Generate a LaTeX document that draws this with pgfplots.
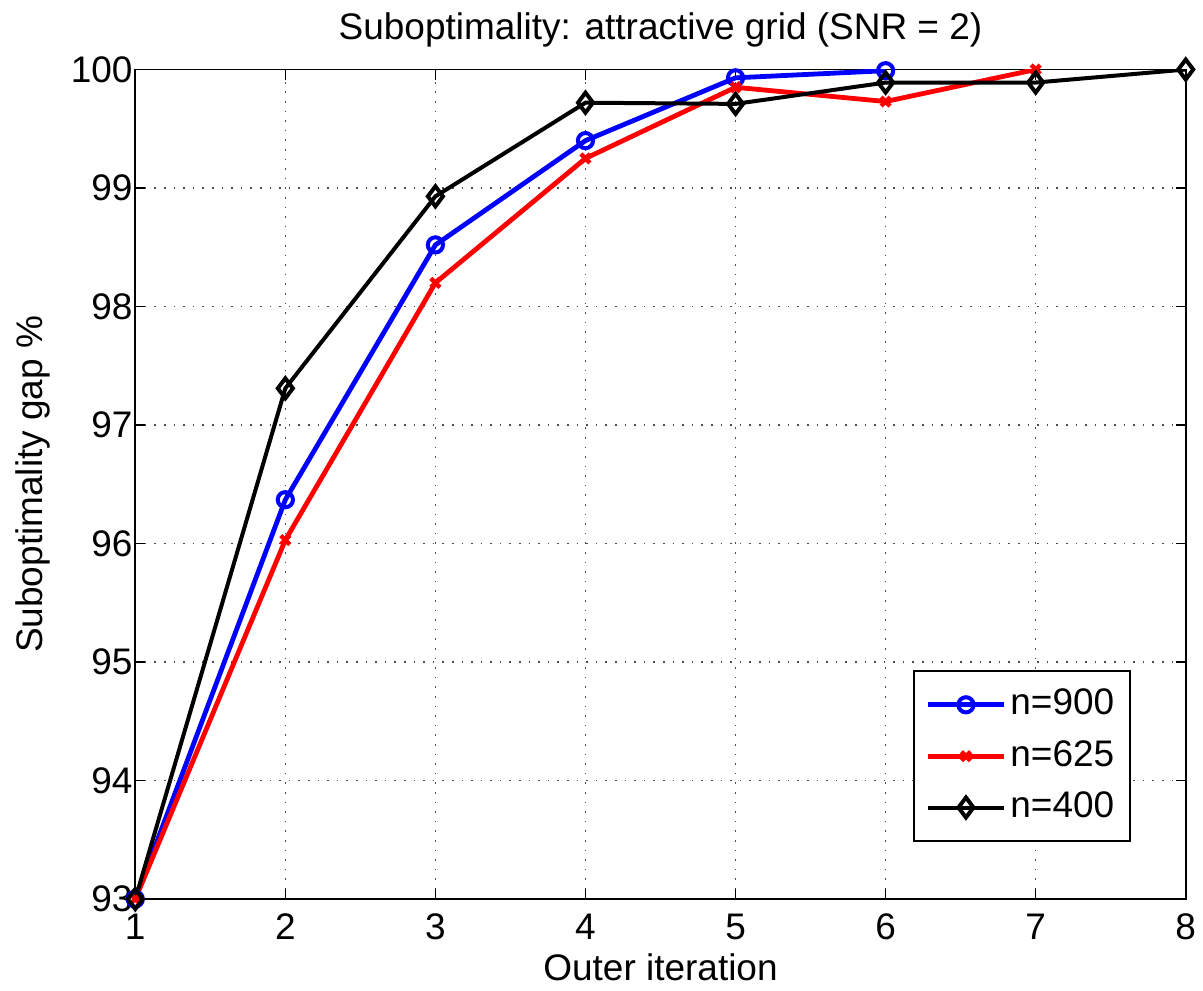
\documentclass[border={1.5pt 3pt 3.5pt 0pt}]{standalone}
\usepackage{pgfplots}
\pgfplotsset{compat=1.18}
\usepackage{fontspec}
\setmainfont{Liberation Sans}
\newcommand{\ff}{\fontsize{18.5}{21}\selectfont}
\begin{document}
\ff
\begin{tikzpicture}
\begin{axis}[
  scale only axis,
  width=525.5pt, height=415pt,
  xmin=1, xmax=8, ymin=93, ymax=100,
  xtick={1,...,8}, ytick={93,...,100},
  /pgf/number format/assume math mode=true,
  tick label style={font=\ff},
  label style={font=\ff},
  title style={font=\ff, yshift=-1pt},
  title={Suboptimality: attractive grid (SNR = 2)},
  xlabel={Outer iteration},
  ylabel={Suboptimality gap \%},
  xlabel style={inner ysep=2pt, yshift=1.5pt},
  ylabel style={yshift=-2pt},
  xticklabel style={yshift=-1pt, inner xsep=0pt},
  yticklabel style={xshift=5pt},
  grid=major,
  major grid style={dash pattern=on 0.8pt off 4pt, black!70, line width=0.6pt},
  tick align=inside,
  major tick length=5pt,
  tick style={black, line width=0.6pt},
  axis line style={line width=0.8pt},
  legend style={at={(0.948,0.0687)}, anchor=south east, draw=black, line width=0.9pt,
    font=\ff, row sep=6pt, inner xsep=6pt, inner ysep=7pt},
  legend cell align=left,
  legend image code/.code={\draw[mark repeat=2,mark phase=2] plot coordinates {(0pt,0pt) (19pt,0pt) (38pt,0pt)};},
]
\addplot[blue, line width=2.4pt, mark=o, mark size=3.8pt, mark options={line width=2pt}] coordinates {
(1,93) (2,96.37) (3,98.52) (4,99.40) (5,99.93) (6,99.99)};
\addlegendentry{n=900}
\addplot[red, line width=2.4pt, mark=x, mark size=3.2pt, mark options={line width=2.2pt}] coordinates {
(1,93) (2,96.03) (3,98.20) (4,99.25) (5,99.85) (6,99.73) (7,100)};
\addlegendentry{n=625}
\addplot[black, line width=2pt, mark=diamond, mark size=5pt, mark options={line width=2pt}] coordinates {
(1,93) (2,97.31) (3,98.93) (4,99.72) (5,99.71) (6,99.89) (7,99.89) (8,100)};
\addlegendentry{n=400}
\end{axis}
\end{tikzpicture}
\end{document}
